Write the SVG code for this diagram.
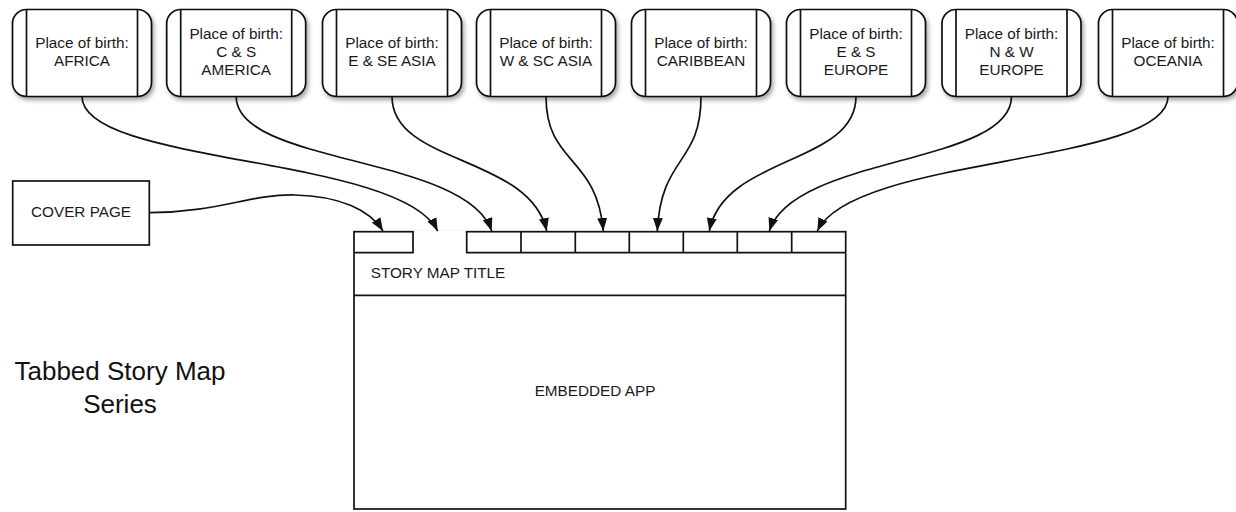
<svg xmlns="http://www.w3.org/2000/svg" width="1236" height="512" viewBox="0 0 1236 512">
  <defs>
    <style>
      .line { fill: none; stroke: #111111; stroke-width: 1.7; }
      .box { fill: #ffffff; stroke: #111111; stroke-width: 1.7; }
      .lbl { font-family: "Liberation Sans", Arial, sans-serif; font-size: 15.3px; fill: #1a1a1a; text-anchor: middle; }
      .lbl-left { font-family: "Liberation Sans", Arial, sans-serif; font-size: 15.3px; fill: #1a1a1a; }
      .big { font-family: "Liberation Sans", Arial, sans-serif; font-size: 26px; fill: #111111; text-anchor: middle; }
      .conn { fill: none; stroke: #111111; stroke-width: 1.7; marker-end: url(#arrow); }
    </style>
    <filter id="shadow" x="-10%" y="-10%" width="125%" height="130%">
      <feDropShadow dx="2" dy="3" stdDeviation="2" flood-color="#000000" flood-opacity="0.35"/>
    </filter>
    <marker id="arrow" markerWidth="13" markerHeight="10" refX="13" refY="5" orient="auto" markerUnits="userSpaceOnUse">
      <path d="M0,0 L13,5 L0,10 Z" fill="#111111"/>
    </marker>
    <symbol id="pob" overflow="visible">
      <rect x="0" y="0" width="139" height="87" rx="14" ry="14" class="box" filter="url(#shadow)"/>
      <line x1="14" y1="0" x2="14" y2="87" class="line"/>
      <line x1="125" y1="0" x2="125" y2="87" class="line"/>
    </symbol>
  </defs>

  <rect x="0" y="0" width="1236" height="512" fill="#ffffff"/>

  <!-- Place of birth nodes -->
  <g id="node-africa">
    <use href="#pob" x="12.5" y="9.5"/>
    <text class="lbl" x="82" y="48">Place of birth:</text>
    <text class="lbl" x="82" y="66.4">AFRICA</text>
  </g>
  <g id="node-cs-america">
    <use href="#pob" x="166.7" y="9.5"/>
    <text class="lbl" x="236.2" y="38.7">Place of birth:</text>
    <text class="lbl" x="236.2" y="57">C &amp; S</text>
    <text class="lbl" x="236.2" y="75.4">AMERICA</text>
  </g>
  <g id="node-ese-asia">
    <use href="#pob" x="322.5" y="9.5"/>
    <text class="lbl" x="392" y="48">Place of birth:</text>
    <text class="lbl" x="392" y="66.4">E &amp; SE ASIA</text>
  </g>
  <g id="node-wsc-asia">
    <use href="#pob" x="476.5" y="9.5"/>
    <text class="lbl" x="546" y="48">Place of birth:</text>
    <text class="lbl" x="546" y="66.4">W &amp; SC ASIA</text>
  </g>
  <g id="node-caribbean">
    <use href="#pob" x="631.5" y="9.5"/>
    <text class="lbl" x="701" y="48">Place of birth:</text>
    <text class="lbl" x="701" y="66.4">CARIBBEAN</text>
  </g>
  <g id="node-es-europe">
    <use href="#pob" x="786.5" y="9.5"/>
    <text class="lbl" x="856" y="38.7">Place of birth:</text>
    <text class="lbl" x="856" y="57">E &amp; S</text>
    <text class="lbl" x="856" y="75.4">EUROPE</text>
  </g>
  <g id="node-nw-europe">
    <use href="#pob" x="942" y="9.5"/>
    <text class="lbl" x="1011.5" y="38.7">Place of birth:</text>
    <text class="lbl" x="1011.5" y="57">N &amp; W</text>
    <text class="lbl" x="1011.5" y="75.4">EUROPE</text>
  </g>
  <g id="node-oceania">
    <use href="#pob" x="1098.5" y="9.5"/>
    <text class="lbl" x="1168" y="48">Place of birth:</text>
    <text class="lbl" x="1168" y="66.4">OCEANIA</text>
  </g>

  <!-- Cover page -->
  <g id="node-cover">
    <rect x="12.7" y="181" width="136.6" height="64" class="box"/>
    <text class="lbl" x="81" y="217">COVER PAGE</text>
  </g>

  <!-- Story map layout -->
  <g id="node-story-map">
    <rect x="354" y="231.7" width="491.7" height="277.3" class="box"/>
    <line x1="413.9" y1="231.7" x2="465.8" y2="231.7" stroke="#ffffff" stroke-width="3"/>
    <path class="line" d="M354,252.7 H413 V231.7 M466.7,231.7 V252.7 H845.7"/>
    <path class="line" d="M521,231.7 V252.7 M575.3,231.7 V252.7 M629.3,231.7 V252.7 M683.3,231.7 V252.7 M737.3,231.7 V252.7 M791.7,231.7 V252.7"/>
    <line x1="354" y1="295.3" x2="845.7" y2="295.3" class="line"/>
    <text class="lbl-left" x="370.7" y="278.3">STORY MAP TITLE</text>
    <text class="lbl" x="595" y="396">EMBEDDED APP</text>
  </g>

  <!-- Caption -->
  <g id="caption">
    <text class="big" x="120" y="380">Tabbed Story Map</text>
    <text class="big" x="120" y="413">Series</text>
  </g>

  <!-- Connectors -->
  <g id="connectors">
    <path class="conn" d="M149.3,212.7 C220,212 250,194 295,195 C340,196 370,210 383,231"/>
    <path class="conn" d="M82,96.5 C82,165 400,155 437.7,231"/>
    <path class="conn" d="M236.2,96.5 C236.2,165 466,155 491.7,231"/>
    <path class="conn" d="M392,96.5 C392,165 530,155 546.7,231"/>
    <path class="conn" d="M546,96.5 C546,165 597,155 603.3,231"/>
    <path class="conn" d="M701,96.5 C701,165 661,155 657.3,231"/>
    <path class="conn" d="M856,96.5 C856,165 724,155 709.3,231"/>
    <path class="conn" d="M1011.5,96.5 C1011.5,165 794,155 769.3,231"/>
    <path class="conn" d="M1168,96.5 C1168,165 854,155 817.3,231"/>
  </g>
</svg>
